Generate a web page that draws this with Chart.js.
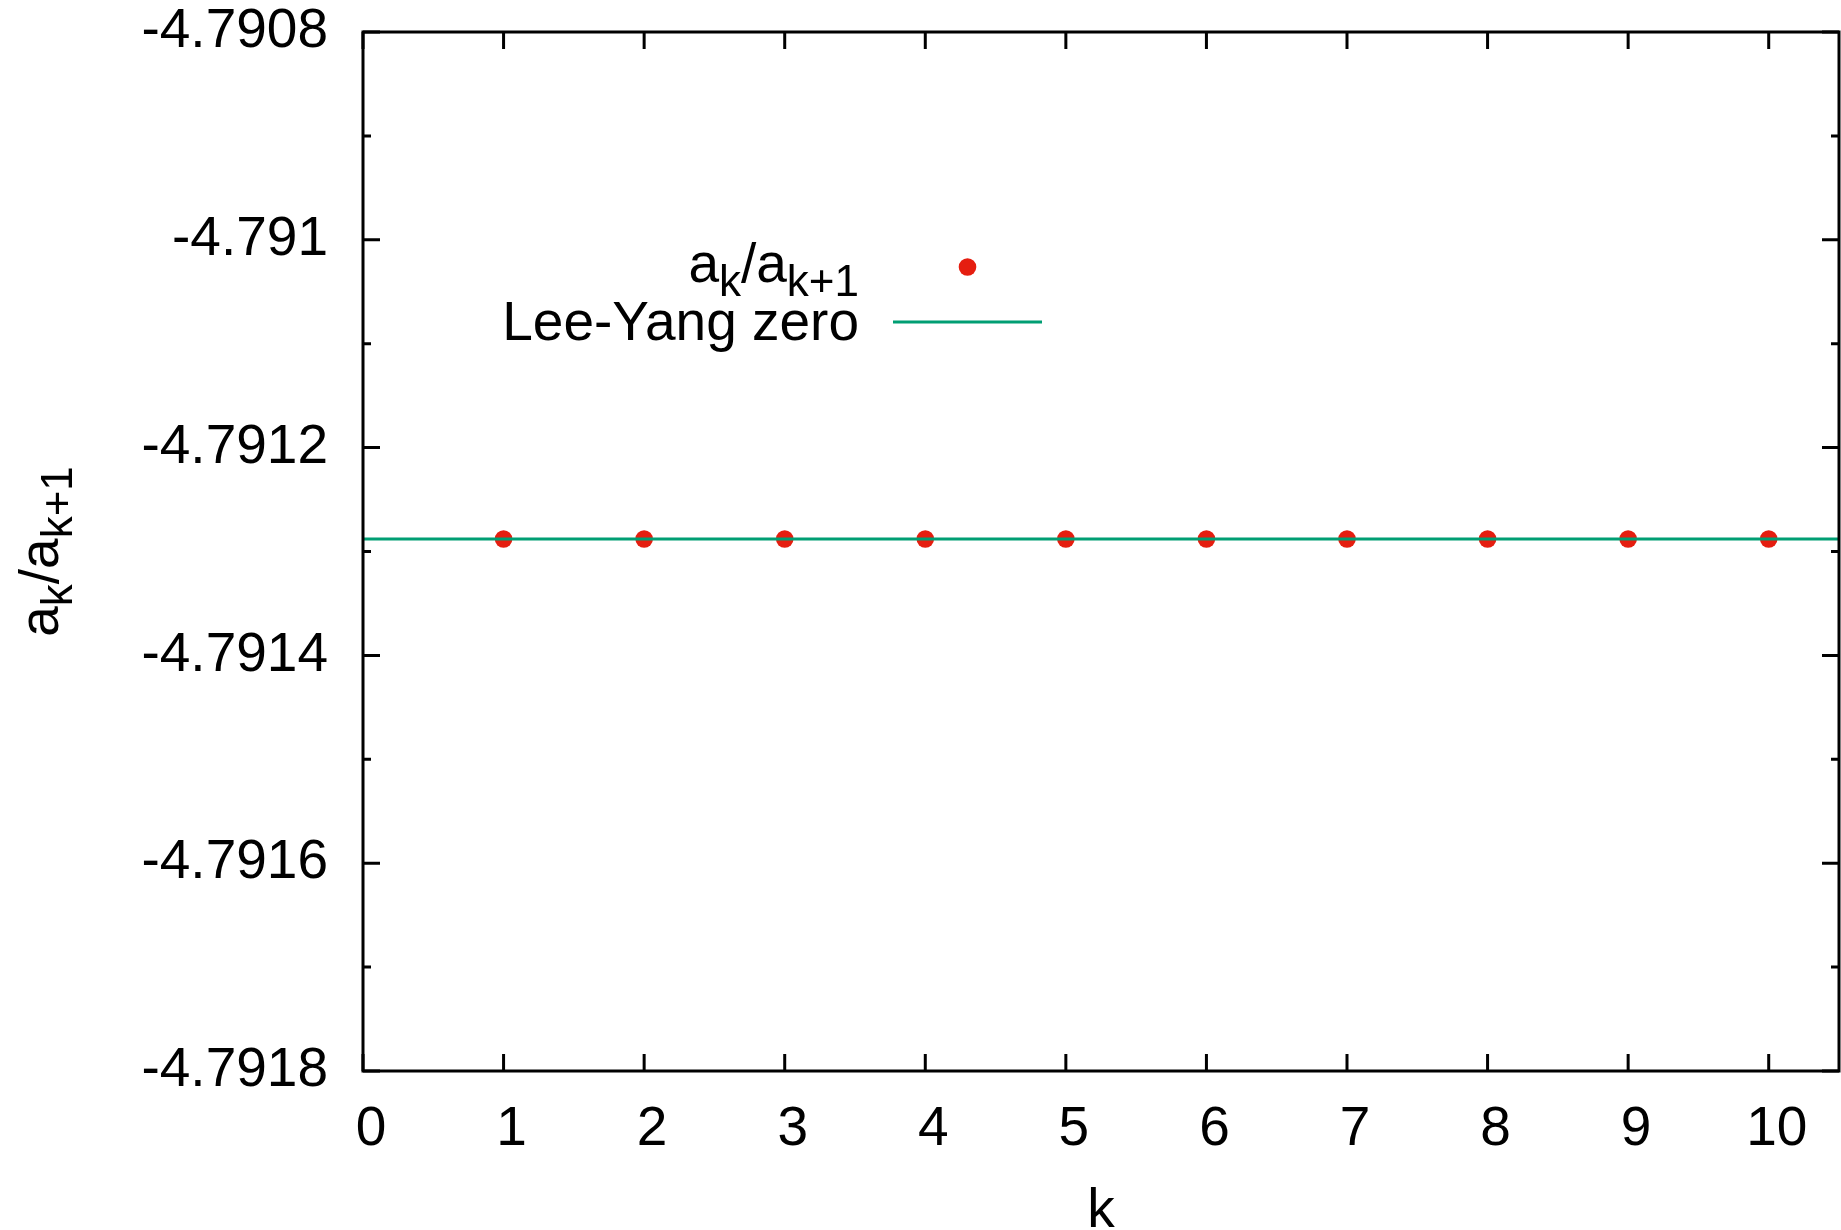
<!DOCTYPE html>
<html lang="en">
<head>
<meta charset="UTF-8">
<title>a_k/a_k+1 against k</title>
<script src="https://cdn.jsdelivr.net/npm/chart.js"></script>
<style>
  body { margin: 0; background: #ffffff; }
  #wrap { width: 1841px; height: 1230px; }
</style>
</head>
<body>
<div id="wrap"><canvas id="ratioChart" width="1841" height="1230"></canvas></div>
<script>
// ratio of successive coefficients, one point per k
const kValues = [1, 2, 3, 4, 5, 6, 7, 8, 9, 10];
const ratioValues = [-4.791288, -4.791288, -4.791288, -4.791288, -4.791288,
                     -4.791288, -4.791288, -4.791288, -4.791288, -4.791288];
// Lee-Yang zero, drawn as a horizontal line across the whole k range
const leeYangZero = -4.791288;

// axis ranges and tick steps
const xRange = [0, 10.5];
const xStep = 1;
const yRange = [-4.7918, -4.7908];
const yStep = 0.0001;      // minor ticks; every second one gets a label

const FONT = "'Liberation Sans', Arial, sans-serif";
const FONT_SIZE = 55;
const RED = '#e51e10';
const GREEN = '#009e73';

// text with subscripts: parts are [text, isSub]
function richWidth(ctx, parts) {
    let w = 0;
    parts.forEach(([t, sub]) => {
        ctx.font = (sub ? FONT_SIZE * 0.8 : FONT_SIZE) + 'px ' + FONT;
        w += ctx.measureText(t).width;
    });
    return w;
}

function drawRich(ctx, parts, x, y) {
    let cx = x;
    parts.forEach(([t, sub]) => {
        ctx.font = (sub ? FONT_SIZE * 0.8 : FONT_SIZE) + 'px ' + FONT;
        ctx.fillText(t, cx, sub ? y + 14 : y);
        cx += ctx.measureText(t).width;
    });
}

const ratioLabel = [['a', false], ['k', true], ['/a', false], ['k+1', true]];

function isMajorY(v) {
    return Math.round((v - yRange[0]) / yStep) % 2 === 0;
}

// gnuplot-like frame: border box, inward ticks on all sides, titles and key
const framePlugin = {
    id: 'frame',
    afterDraw(chart) {
        const ctx = chart.ctx;
        const area = chart.chartArea;
        const xs = chart.scales.x;
        const ys = chart.scales.y;
        ctx.save();
        ctx.strokeStyle = '#000';
        ctx.lineWidth = 3;
        ctx.lineCap = 'butt';

        ctx.beginPath();
        xs.ticks.forEach(t => {
            const px = xs.getPixelForValue(t.value);
            ctx.moveTo(px, area.bottom);
            ctx.lineTo(px, area.bottom - 17);
            ctx.moveTo(px, area.top);
            ctx.lineTo(px, area.top + 17);
        });
        ys.ticks.forEach(t => {
            const py = ys.getPixelForValue(t.value);
            const len = isMajorY(t.value) ? 17 : 8;
            ctx.moveTo(area.left, py);
            ctx.lineTo(area.left + len, py);
            ctx.moveTo(area.right, py);
            ctx.lineTo(area.right - len, py);
        });
        ctx.stroke();

        ctx.strokeRect(area.left, area.top, area.right - area.left, area.bottom - area.top);

        ctx.fillStyle = '#000';
        ctx.textAlign = 'left';
        ctx.textBaseline = 'alphabetic';

        // x title
        ctx.font = FONT_SIZE + 'px ' + FONT;
        ctx.textAlign = 'center';
        ctx.fillText('k', (area.left + area.right) / 2, 1227);
        ctx.textAlign = 'left';

        // y title, rotated
        ctx.save();
        ctx.translate(58, (area.top + area.bottom) / 2);
        ctx.rotate(-Math.PI / 2);
        drawRich(ctx, ratioLabel, -richWidth(ctx, ratioLabel) / 2, 0);
        ctx.restore();

        // key
        const keyRight = 859;
        const sampleLeft = 893;
        const sampleRight = 1042;
        const rows = [267, 322];
        const ds = chart.data.datasets;

        drawRich(ctx, ratioLabel, keyRight - richWidth(ctx, ratioLabel), rows[0] + 15);
        ctx.fillStyle = ds[1].backgroundColor;
        ctx.beginPath();
        ctx.arc((sampleLeft + sampleRight) / 2, rows[0], ds[1].pointRadius, 0, Math.PI * 2);
        ctx.fill();

        ctx.fillStyle = '#000';
        ctx.font = FONT_SIZE + 'px ' + FONT;
        ctx.textAlign = 'right';
        ctx.fillText(ds[0].label, keyRight, rows[1] + 18);
        ctx.strokeStyle = ds[0].borderColor;
        ctx.lineWidth = ds[0].borderWidth;
        ctx.beginPath();
        ctx.moveTo(sampleLeft, rows[1]);
        ctx.lineTo(sampleRight, rows[1]);
        ctx.stroke();
        ctx.restore();
    }
};

const tickFont = { family: FONT, size: FONT_SIZE };

new Chart(document.getElementById('ratioChart'), {
    type: 'scatter',
    data: {
        datasets: [
            {
                type: 'line',
                label: 'Lee-Yang zero',
                data: [{ x: xRange[0], y: leeYangZero }, { x: xRange[1], y: leeYangZero }],
                borderColor: GREEN,
                borderWidth: 3,
                pointRadius: 0,
                fill: false,
                order: 0
            },
            {
                label: 'a_k/a_k+1',
                data: kValues.map((k, i) => ({ x: k, y: ratioValues[i] })),
                backgroundColor: RED,
                borderWidth: 0,
                pointRadius: 8.8,
                showLine: false,
                order: 1
            }
        ]
    },
    options: {
        responsive: false,
        animation: false,
        devicePixelRatio: 1,
        layout: { autoPadding: false, padding: { top: 32, right: 2, left: 0, bottom: 0 } },
        plugins: {
            legend: { display: false },
            tooltip: { enabled: false }
        },
        scales: {
            x: {
                type: 'linear',
                min: xRange[0],
                max: xRange[1],
                grid: { display: false, drawTicks: false },
                border: { display: false },
                ticks: {
                    stepSize: xStep,
                    includeBounds: false,
                    autoSkip: false,
                    maxRotation: 0,
                    padding: 26,
                    labelOffset: 8,
                    color: '#000',
                    font: tickFont
                },
                afterFit(scale) {
                    scale.height = 159;
                    scale.paddingLeft = 0;
                    scale.paddingRight = 0;
                }
            },
            y: {
                type: 'linear',
                min: yRange[0],
                max: yRange[1],
                grid: { display: false, drawTicks: false },
                border: { display: false },
                ticks: {
                    stepSize: yStep,
                    autoSkip: false,
                    padding: 35,
                    color: '#000',
                    font: tickFont,
                    callback: v => isMajorY(v) ? String(parseFloat(v.toFixed(4))) : ''
                },
                afterFit(scale) {
                    scale.width = 363;
                    scale.paddingTop = 0;
                    scale.paddingBottom = 0;
                }
            }
        }
    },
    plugins: [framePlugin]
});
</script>
</body>
</html>
